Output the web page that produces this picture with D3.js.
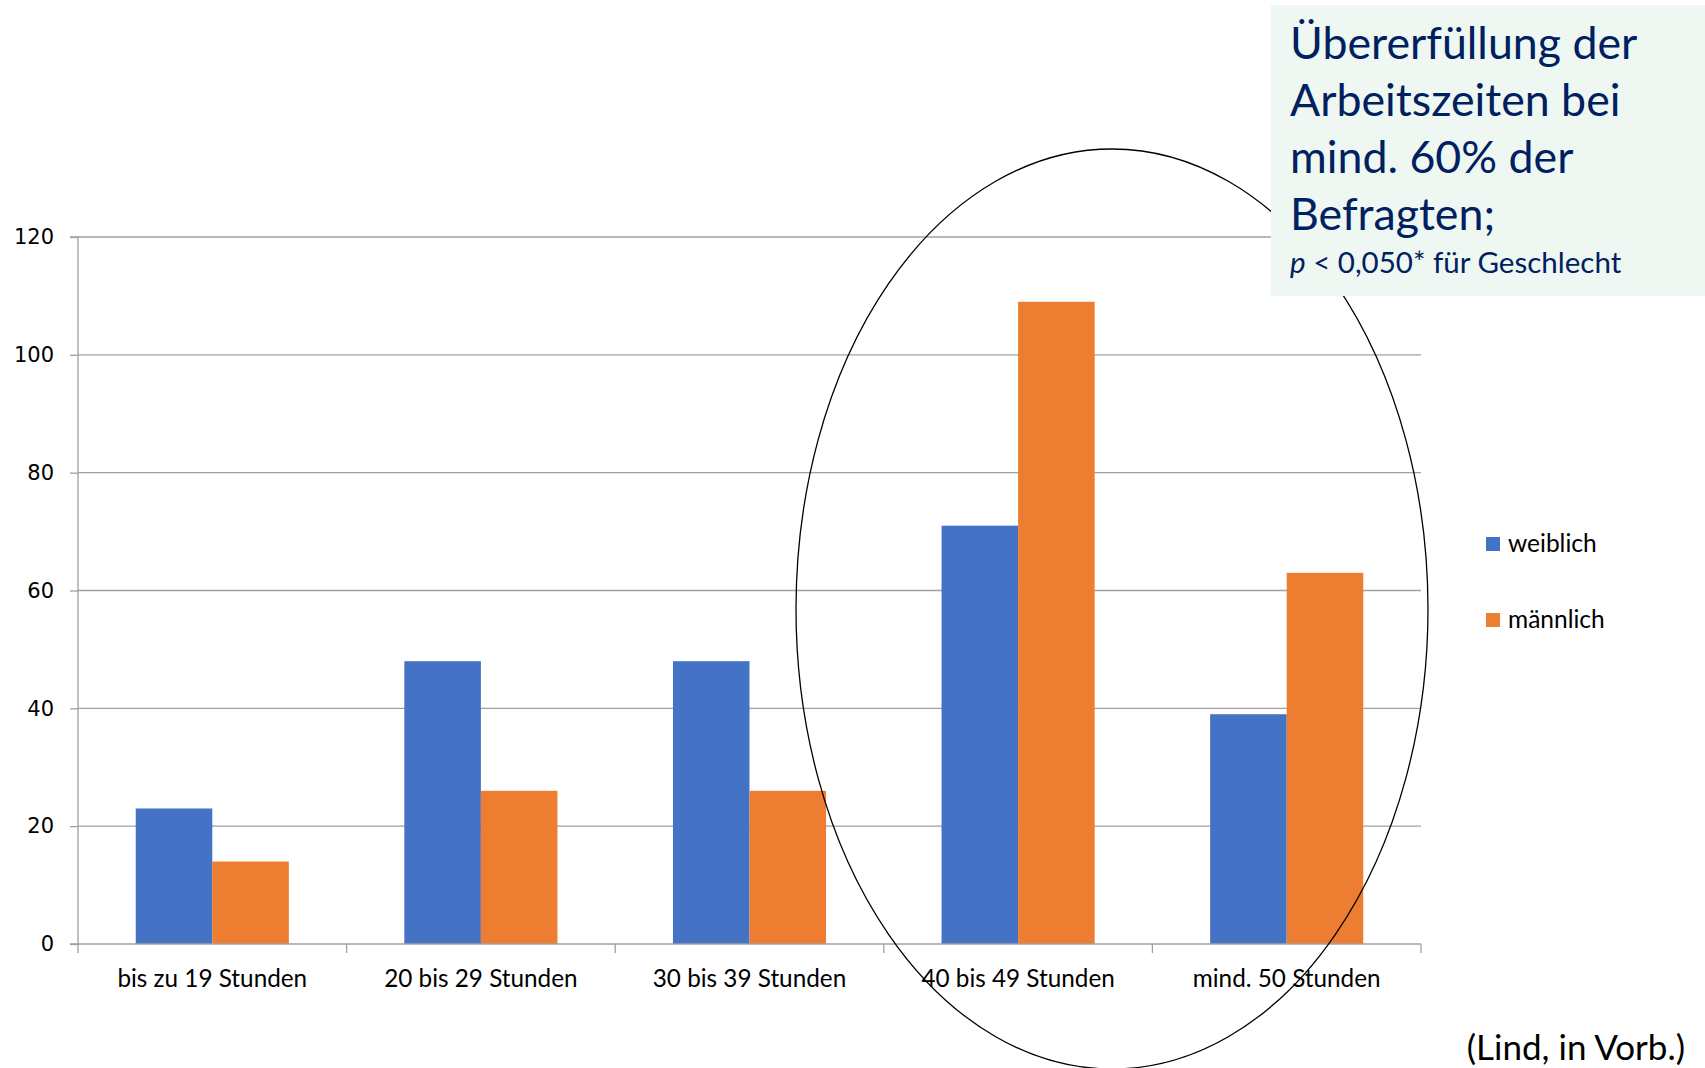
<!DOCTYPE html>
<html><head><meta charset="utf-8">
<script src="https://cdn.jsdelivr.net/npm/d3@7"></script>
<style>body{margin:0;background:#fff}svg{display:block}</style>
</head><body>
<script>
const categories = ["bis zu 19 Stunden","20 bis 29 Stunden","30 bis 39 Stunden","40 bis 49 Stunden","mind. 50 Stunden"];
const seriesNames = ["weiblich","männlich"];
const weiblich = [23,48,48,71,39];
const maennlich = [14,26,26,109,63];
const yTicks = [0,20,40,60,80,100,120];
const colors = ["#4472C4","#ED7D31"];
const boxLines = ["Übererfüllung der","Arbeitszeiten bei","mind. 60% der","Befragten;"];
const sourceText = "(Lind, in Vorb.)";

const W=1705,H=1068;
const svg=d3.select("body").append("svg").attr("width",W).attr("height",H);
const m={l:78,r:1421,t:237,b:944};
const x=d3.scaleBand().domain(categories).range([m.l,m.r]).paddingInner(0.43).paddingOuter(0.215);
const xs=d3.scaleBand().domain(seriesNames).range([0,x.bandwidth()]);
const y=d3.scaleLinear().domain([0,120]).range([m.b,m.t]);
const grid="#a0a0a0";

// gridlines
svg.append("g").selectAll("line").data(yTicks.filter(d=>d>0)).join("line")
  .attr("x1",m.l).attr("x2",m.r).attr("y1",d=>y(d)).attr("y2",d=>y(d))
  .attr("stroke",grid).attr("stroke-width",1.3);

// bars
const data=categories.map((c,i)=>({c,vals:[weiblich[i],maennlich[i]]}));
const g=svg.append("g");
data.forEach(d=>{
  g.selectAll(null).data(d.vals.map((v,j)=>({v,s:seriesNames[j],j}))).join("rect")
   .attr("x",e=>x(d.c)+xs(e.s)).attr("width",xs.bandwidth())
   .attr("y",e=>y(e.v)).attr("height",e=>y(0)-y(e.v)).attr("fill",e=>colors[e.j]);
});

// y axis
const ya=d3.axisLeft(y).tickValues(yTicks).tickSize(8).tickPadding(16);
const yg=svg.append("g").attr("transform",`translate(${m.l},0)`).call(ya);
yg.select(".domain").attr("stroke",grid).attr("stroke-width",1.3).attr("d",`M-8,${m.t}H0V${m.b}`);
yg.selectAll(".tick line").attr("stroke",grid).attr("stroke-width",1.3);
yg.selectAll("text").attr("font-family","DejaVu Sans").attr("font-size",21).attr("fill","#000");

// x axis
const xb=d3.scalePoint().domain(d3.range(categories.length+1)).range([m.l,m.r]);
const xa=svg.append("g");
xa.append("line").attr("x1",m.l-8).attr("x2",m.r).attr("y1",m.b).attr("y2",m.b).attr("stroke",grid).attr("stroke-width",1.3);
xa.selectAll("line.t").data(xb.domain()).join("line").attr("class","t")
  .attr("x1",d=>xb(d)).attr("x2",d=>xb(d)).attr("y1",m.b).attr("y2",m.b+9).attr("stroke",grid).attr("stroke-width",1.3);
xa.selectAll("text").data(categories).join("text")
  .attr("x",d=>x(d)+x.bandwidth()/2).attr("y",987).attr("text-anchor","middle")
  .attr("font-family","Lato").attr("font-size",24.3).attr("fill","#000").text(d=>d);

// legend
const lg=svg.append("g");
seriesNames.forEach((s,i)=>{
  const yy=537+i*76;
  lg.append("rect").attr("x",1486).attr("y",yy).attr("width",14).attr("height",14).attr("fill",colors[i]);
  lg.append("text").attr("x",1508).attr("y",yy+15).attr("font-family","Lato").attr("font-size",24.5).attr("fill","#000").text(s);
});

// ellipse annotation
svg.append("ellipse").attr("cx",1112).attr("cy",609).attr("rx",316).attr("ry",460)
  .attr("fill","none").attr("stroke","#000").attr("stroke-width",1.3);

// text box
svg.append("rect").attr("x",1271).attr("y",5).attr("width",W-1271).attr("height",291).attr("fill","#EEF7F1");
const tb=svg.append("g").attr("font-family","Lato").attr("fill","#002060");
boxLines.forEach((t,i)=>{
  tb.append("text").attr("x",1290).attr("y",59+i*57).attr("font-size",44.7).text(t);
});
const pl=tb.append("text").attr("x",1290).attr("y",273).attr("font-size",29.5);
pl.append("tspan").attr("font-style","italic").text("p");
pl.append("tspan").text(" < 0,050* für Geschlecht");

svg.append("text").attr("x",1685).attr("y",1060).attr("text-anchor","end")
  .attr("font-family","Lato").attr("font-size",35).attr("fill","#000").text(sourceText);
</script>
</body></html>
